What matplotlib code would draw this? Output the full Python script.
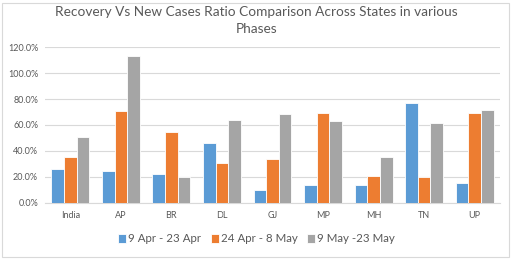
import numpy as np
import matplotlib
matplotlib.use("Agg")
import matplotlib.pyplot as plt
from matplotlib.ticker import PercentFormatter
from matplotlib.patches import Rectangle

states = ["India", "AP", "BR", "DL", "GJ", "MP", "MH", "TN", "UP"]
phases = ["9 Apr - 23 Apr", "24 Apr - 8 May", "9 May -23 May"]
phase1 = [25.8, 24.7, 22.2, 45.9, 9.6, 13.4, 13.7, 77.2, 15.2]
phase2 = [35.0, 70.6, 54.3, 30.6, 33.7, 69.3, 20.9, 19.8, 69.3]
phase3 = [50.7, 113.0, 20.0, 64.1, 68.5, 63.3, 35.3, 61.8, 71.8]
colors = ["#5B9BD5", "#ED7D31", "#A5A5A5"]
text_col = "#595959"

plt.rcParams["font.family"] = ["Lato", "DejaVu Sans"]

fig = plt.figure(figsize=(5.13, 2.6), dpi=100)
ax = fig.add_axes([45 / 513, 1 - 202.7 / 260, 455 / 513, 155.4 / 260])

x = np.arange(len(states))
w = 0.25
for i, vals in enumerate([phase1, phase2, phase3]):
    ax.bar(x + (i - 1) * w, vals, w, color=colors[i], edgecolor="white",
           linewidth=0.6, label=phases[i], zorder=3)

ax.set_xlim(-0.5, len(states) - 0.5)
ax.set_ylim(0, 120)
ax.set_yticks(np.arange(0, 121, 20))
ax.yaxis.set_major_formatter(PercentFormatter(decimals=1))
ax.set_xticks(x)
ax.set_xticklabels(states)
ax.tick_params(length=0, labelsize=6.5, colors=text_col)
ax.tick_params(axis="x", pad=6)
ax.tick_params(axis="y", pad=5)
ax.grid(axis="y", color="#D9D9D9", linewidth=0.8, zorder=0)
for s in ["top", "right", "left"]:
    ax.spines[s].set_visible(False)
ax.spines["bottom"].set_color("#D9D9D9")

fig.text(0.5, 1 - 12 / 260, "Recovery Vs New Cases Ratio Comparison Across States in various",
         ha="center", va="center", fontsize=9.8, color=text_col)
fig.text(0.5, 1 - 29 / 260, "Phases", ha="center", va="center", fontsize=9.8, color=text_col)

fig.legend(loc="center", bbox_to_anchor=(0.5, 1 - 239 / 260), ncol=3, frameon=False,
           fontsize=8.3, labelcolor=text_col, handlelength=0.7, handleheight=0.7,
           handletextpad=0.2, columnspacing=0.8)

fig.patches.append(Rectangle((2 / 513, 3 / 260), 507 / 513, 254 / 260, transform=fig.transFigure,
                             fill=False, edgecolor="#D9D9D9", linewidth=0.8))

fig.savefig("out.png", dpi=100)
